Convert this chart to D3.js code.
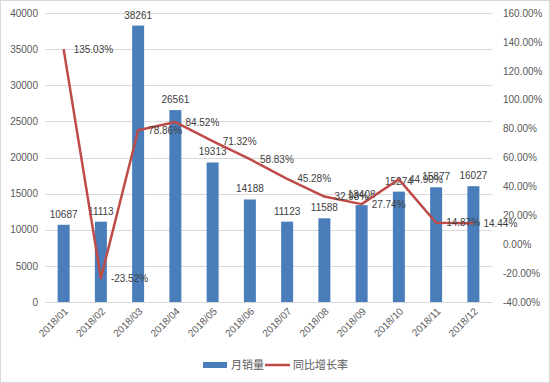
<!DOCTYPE html>
<html>
<head>
<meta charset="utf-8">
<script src="https://cdn.jsdelivr.net/npm/d3@7"></script>
<style>
body { margin: 0; background: #fff; }
#chart { width: 550px; height: 383px; }
text { font-family: "Liberation Sans", "Noto Sans CJK SC", sans-serif; }
</style>
</head>
<body>
<div id="chart"></div>
<script>
var months = ["2018/01", "2018/02", "2018/03", "2018/04", "2018/05", "2018/06",
    "2018/07", "2018/08", "2018/09", "2018/10", "2018/11", "2018/12"];
var sales = [10687, 11113, 38261, 26561, 19313, 14188, 11123, 11588, 13408, 15274, 15877, 16027];
var growth = [135.03, -23.52, 78.86, 84.52, 71.32, 58.83, 45.28, 32.98, 27.74, 44.90, 14.87, 14.44];
var leftTicks = [0, 5000, 10000, 15000, 20000, 25000, 30000, 35000, 40000];
var rightTicks = [-40, -20, 0, 20, 40, 60, 80, 100, 120, 140, 160];

var W = 550, H = 383;
var margin = { top: 13, right: 58, bottom: 81, left: 45 };
var width = W - margin.left - margin.right;
var height = H - margin.top - margin.bottom;

var svg = d3.select("#chart").append("svg")
    .attr("width", W)
    .attr("height", H);

svg.append("rect")
    .attr("x", 0.5).attr("y", 0.5)
    .attr("width", W - 1).attr("height", H - 1)
    .attr("fill", "#fff")
    .attr("stroke", "#d9d9d9");

var g = svg.append("g")
    .attr("transform", "translate(" + margin.left + "," + margin.top + ")");

var x = d3.scaleBand().domain(months).range([0, width]);
var yL = d3.scaleLinear().domain([0, 40000]).range([height, 0]);
var yR = d3.scaleLinear().domain([-40, 160]).range([height, 0]);

// gridlines
g.selectAll(".grid").data(leftTicks).enter().append("line")
    .attr("x1", 0).attr("x2", width)
    .attr("y1", function(d) { return Math.round(yL(d)) + 0.5; })
    .attr("y2", function(d) { return Math.round(yL(d)) + 0.5; })
    .attr("stroke", "#d9d9d9");

// left axis
var axL = g.append("g")
    .call(d3.axisLeft(yL).tickValues(leftTicks).tickSize(0).tickPadding(7)
        .tickFormat(d3.format("d")));
axL.select(".domain").remove();
axL.selectAll("text").attr("fill", "#595959").style("font-size", "10px");

// right axis
var axR = g.append("g")
    .attr("transform", "translate(" + width + ",0)")
    .call(d3.axisRight(yR).tickValues(rightTicks).tickSize(0).tickPadding(11)
        .tickFormat(function(d) { return d.toFixed(2) + "%"; }));
axR.select(".domain").remove();
axR.selectAll("text").attr("fill", "#595959").style("font-size", "10px");

// bars
var barW = 12;
g.selectAll(".bar").data(sales).enter().append("rect")
    .attr("x", function(d, i) { return x(months[i]) + x.bandwidth() / 2 - barW / 2; })
    .attr("y", function(d) { return yL(d); })
    .attr("width", barW)
    .attr("height", function(d) { return height - yL(d); })
    .attr("fill", "#4a7ebb");

// bottom axis
var axB = g.append("g")
    .attr("transform", "translate(0," + height + ")")
    .call(d3.axisBottom(x).tickSize(0).tickPadding(0));
axB.select(".domain").attr("stroke", "#d9d9d9");
axB.selectAll("text")
    .attr("fill", "#595959")
    .style("font-size", "10px")
    .style("text-anchor", "end")
    .attr("dy", "0")
    .attr("transform", "translate(5,10) rotate(-45)");

// bar labels
g.selectAll(".blabel").data(sales).enter().append("text")
    .attr("x", function(d, i) { return x(months[i]) + x.bandwidth() / 2; })
    .attr("y", function(d) { return yL(d) - 7; })
    .attr("text-anchor", "middle")
    .attr("fill", "#404040")
    .style("font-size", "10px")
    .text(function(d) { return d; });

// line
var line = d3.line()
    .x(function(d, i) { return x(months[i]) + x.bandwidth() / 2; })
    .y(function(d) { return yR(d); });

g.append("path")
    .datum(growth)
    .attr("d", line)
    .attr("fill", "none")
    .attr("stroke", "#be4b48")
    .attr("stroke-width", 2.5)
    .attr("stroke-linejoin", "round");

// line labels
g.selectAll(".llabel").data(growth).enter().append("text")
    .attr("x", function(d, i) { return x(months[i]) + x.bandwidth() / 2 + 10; })
    .attr("y", function(d) { return yR(d); })
    .attr("dy", "0.35em")
    .attr("fill", "#404040")
    .style("font-size", "10px")
    .text(function(d) { return d.toFixed(2) + "%"; });

// legend
var leg = svg.append("g").attr("transform", "translate(203,365)");
leg.append("rect").attr("x", 0).attr("y", -3).attr("width", 24).attr("height", 6).attr("fill", "#4a7ebb");
leg.append("text").attr("x", 28).attr("y", 0).attr("dy", "0.35em")
    .attr("fill", "#595959").style("font-size", "11px").text("月销量");
leg.append("line").attr("x1", 62).attr("x2", 87).attr("y1", 0).attr("y2", 0)
    .attr("stroke", "#be4b48").attr("stroke-width", 2.5);
leg.append("text").attr("x", 90).attr("y", 0).attr("dy", "0.35em")
    .attr("fill", "#595959").style("font-size", "11px").text("同比增长率");
</script>
</body>
</html>
